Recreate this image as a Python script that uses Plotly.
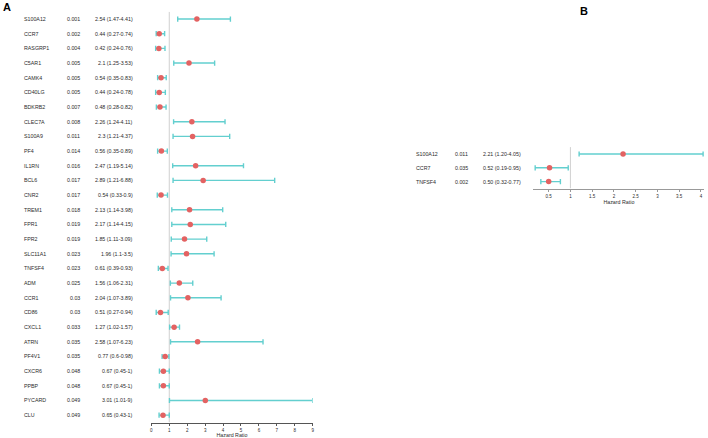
import plotly.graph_objects as go

W, H = 708, 438

# ---------------- data ----------------
genes_a = ["S100A12", "CCR7", "RASGRP1", "C5AR1", "CAMK4", "CD40LG", "BDKRB2", "CLEC7A",
           "S100A9", "PF4", "IL1RN", "BCL6", "CNR2", "TREM1", "FPR1", "FPR2", "SLC11A1",
           "TNFSF4", "ADM", "CCR1", "CD86", "CXCL1", "ATRN", "PF4V1", "CXCR6", "PPBP",
           "PYCARD", "CLU"]
p_a = [0.001, 0.002, 0.004, 0.005, 0.005, 0.005, 0.007, 0.008, 0.011, 0.014, 0.016, 0.017,
       0.017, 0.018, 0.019, 0.019, 0.023, 0.023, 0.025, 0.03, 0.03, 0.033, 0.035, 0.035,
       0.048, 0.048, 0.049, 0.049]
hr_a = [2.54, 0.44, 0.42, 2.1, 0.54, 0.44, 0.48, 2.26, 2.3, 0.56, 2.47, 2.89, 0.54, 2.13,
        2.17, 1.85, 1.96, 0.61, 1.56, 2.04, 0.51, 1.27, 2.58, 0.77, 0.67, 0.67, 3.01, 0.65]
lo_a = [1.47, 0.27, 0.24, 1.25, 0.35, 0.24, 0.28, 1.24, 1.21, 0.35, 1.19, 1.21, 0.33, 1.14,
        1.14, 1.11, 1.1, 0.39, 1.06, 1.07, 0.27, 1.02, 1.07, 0.6, 0.45, 0.45, 1.01, 0.43]
hi_a = [4.41, 0.74, 0.76, 3.53, 0.83, 0.78, 0.82, 4.11, 4.37, 0.89, 5.14, 6.88, 0.9, 3.98,
        4.15, 3.09, 3.5, 0.93, 2.31, 3.89, 0.94, 1.57, 6.23, 0.98, 1, 1, 9, 1]
ticks_a = [0, 1, 2, 3, 4, 5, 6, 7, 8, 9]

genes_b = ["S100A12", "CCR7", "TNFSF4"]
p_b = [0.011, 0.035, 0.002]
hr_b = [2.21, 0.52, 0.50]
lo_b = [1.20, 0.19, 0.32]
hi_b = [4.05, 0.95, 0.77]
ticks_b = [0.5, 1, 1.5, 2, 2.5, 3, 3.5, 4]
ticklabels_b = ["0.5", "1", "1.5", "2", "2.5", "3", "3.5", "4"]

# ---------------- style ----------------
FONT = "Liberation Sans, Arial, sans-serif"
TEAL = "#63CFCF"
RED = "#E36262"
TXT = "#2b2b2b"
FS = 5.3

def px(x):
    return x / W

def py(y):
    return 1 - y / H

fig = go.Figure()

rows_a = list(range(len(genes_a)))
rows_b = list(range(len(genes_b)))

fig.add_trace(go.Scatter(
    x=hr_a, y=rows_a, mode="markers", xaxis="x", yaxis="y", cliponaxis=False,
    marker=dict(color=RED, size=5.5, line=dict(width=0)),
    error_x=dict(type="data", symmetric=False,
                 array=[h - v for h, v in zip(hi_a, hr_a)],
                 arrayminus=[v - l for v, l in zip(hr_a, lo_a)],
                 color=TEAL, thickness=1.4, width=2.6),
    showlegend=False, hoverinfo="skip"))

fig.add_trace(go.Scatter(
    x=hr_b, y=rows_b, mode="markers", xaxis="x2", yaxis="y2", cliponaxis=False,
    marker=dict(color=RED, size=5.5, line=dict(width=0)),
    error_x=dict(type="data", symmetric=False,
                 array=[h - v for h, v in zip(hi_b, hr_b)],
                 arrayminus=[v - l for v, l in zip(hr_b, lo_b)],
                 color=TEAL, thickness=1.4, width=2.6),
    showlegend=False, hoverinfo="skip"))

# reference lines at HR = 1
fig.add_shape(type="line", xref="x", yref="y", x0=1, x1=1, y0=-0.5, y1=len(genes_a) - 0.5,
              line=dict(color="#d0d0d0", width=1), layer="below")
fig.add_shape(type="line", xref="x2", yref="y2", x0=1, x1=1, y0=-0.5, y1=len(genes_b) - 0.5,
              line=dict(color="#d0d0d0", width=1), layer="below")

ann = []
def txt(x, y, s, anchor, yref, size=FS):
    ann.append(dict(x=x, y=y, xref="paper", yref=yref, text=s,
                    showarrow=False, xanchor=anchor, yanchor="middle",
                    font=dict(family=FONT, size=size, color=TXT)))

# panel A table
for i, g in enumerate(genes_a):
    txt(px(21), i, g, "left", "y")
    txt(px(81.5), i, f"{p_a[i]:g}", "right", "y")
    txt(px(135), i, f"{hr_a[i]:g} ({lo_a[i]:g}-{hi_a[i]:g})", "right", "y")
txt(px(81.5), -0.98, "P Value", "right", "y")
txt(px(135), -0.98, "Hazard Ratio", "right", "y")

# panel B table
for i, g in enumerate(genes_b):
    txt(px(415), i, g, "left", "y2")
    txt(px(471), i, f"{p_b[i]:g}", "right", "y2")
    txt(px(524), i, f"{hr_b[i]:.2f} ({lo_b[i]:.2f}-{hi_b[i]:.2f})", "right", "y2")
txt(px(471), -0.94, "P Value", "right", "y2")
txt(px(524), -0.94, "Hazard Ratio", "right", "y2")

# panel letters
ann.append(dict(x=px(0), y=py(7.5), xref="paper", yref="paper", text="<b>A</b>", showarrow=False,
                xanchor="left", yanchor="middle", font=dict(family=FONT, size=11, color="#000")))
ann.append(dict(x=px(579), y=py(11), xref="paper", yref="paper", text="<b>B</b>", showarrow=False,
                xanchor="left", yanchor="middle", font=dict(family=FONT, size=11, color="#000")))

axis_common = dict(showgrid=False, zeroline=False, showline=True, ticks="outside",
                   ticklen=3, tickwidth=0.8, tickfont=dict(family=FONT, size=4.5, color=TXT))

fig.update_layout(
    width=W, height=H, margin=dict(l=0, r=0, t=0, b=0),
    paper_bgcolor="white", plot_bgcolor="white",
    xaxis=dict(domain=[px(151), px(313)], range=[0, 9], tickvals=ticks_a, anchor="y",
               linecolor="#555", linewidth=0.9, tickcolor="#555",
               title=dict(text="Hazard Ratio", font=dict(family=FONT, size=5.3, color=TXT), standoff=0),
               **axis_common),
    yaxis=dict(domain=[py(422.5), py(11.7)], range=[len(genes_a) - 0.5, -0.5], visible=False),
    xaxis2=dict(domain=[px(534.7), px(706.4)], range=[0.15, 4.08], tickvals=ticks_b,
                ticktext=ticklabels_b, anchor="y2",
                linecolor="#999", linewidth=0.6, tickcolor="#999",
                title=dict(text="Hazard Ratio", font=dict(family=FONT, size=5.3, color=TXT), standoff=0),
                **axis_common),
    yaxis2=dict(domain=[py(188.5), py(147.1)], range=[len(genes_b) - 0.5, -0.5], visible=False),
    annotations=ann,
)

fig.write_html("out.html", config={"displayModeBar": False},
               post_script="document.body.style.margin='0';document.body.style.overflow='hidden';")
